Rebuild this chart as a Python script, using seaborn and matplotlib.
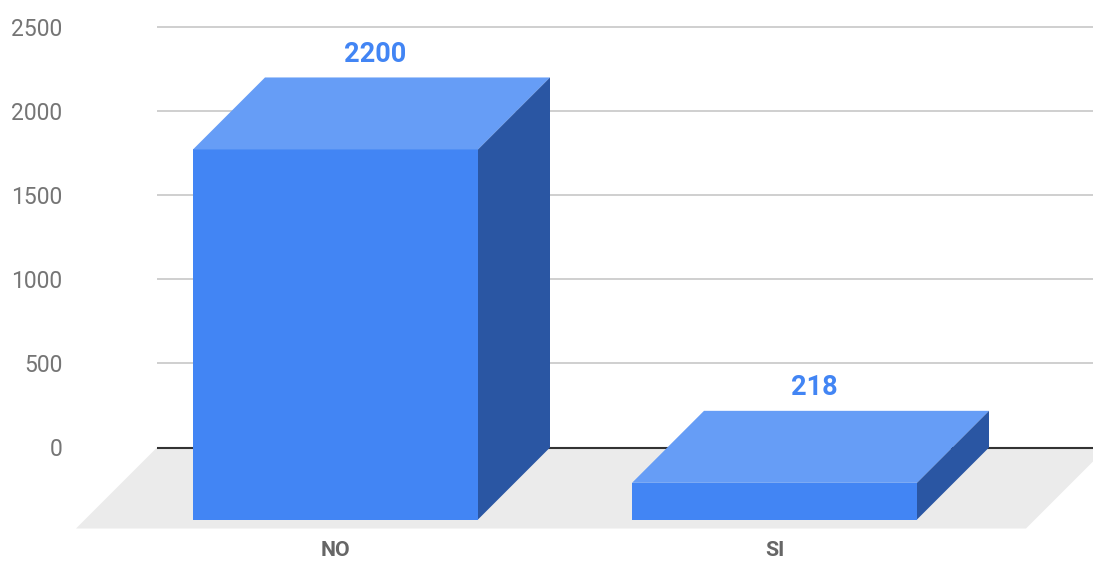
import matplotlib
matplotlib.use("Agg")
import matplotlib.pyplot as plt
from matplotlib.patches import Polygon, Rectangle
import seaborn as sns

# Survey answers and their counts
categories = ["NO", "SI"]
values = [2200, 218]
y_ticks = [0, 500, 1000, 1500, 2000, 2500]

FRONT = "#4285F4"
TOP = "#669DF6"
SIDE = "#2A56A3"
FLOOR = "#EBEBEB"

sns.set_theme(style="white")
plt.rcParams["font.family"] = ["Roboto", "DejaVu Sans"]

W, H = 1093, 562
fig = plt.figure(figsize=(W / 100, H / 100), dpi=100)
# axes spans from the gridline start to the right edge, top to just below the floor
ax = fig.add_axes([157 / W, (H - 540) / H, 1 - 157 / W, 540 / H])

# scale: pixels per category step and per value unit
px_cat = 439.0
px_val = 420.5 / 2500
bar_w = 285 / px_cat
dx = 72 / px_cat          # depth offset along x (category units)
dv = 72 / px_val          # depth offset along y (value units)

# floor under the bars
fdx = 81 / px_cat
fdv = 81 / px_val
fl, fr = -0.5706, 1.5934
ax.add_patch(Polygon([(fl, 0), (fr, 0), (fr - fdx, -fdv), (fl - fdx, -fdv)],
                     closed=True, facecolor=FLOOR, edgecolor="none",
                     zorder=0.5, clip_on=False))

sns.barplot(x=categories, y=values, width=bar_w, color=FRONT, saturation=1,
            linewidth=0, ax=ax, zorder=3)

bars = [p for p in ax.patches if isinstance(p, Rectangle)][:len(values)]
for patch, v in zip(bars, values):
    x0 = patch.get_x()
    w = patch.get_width()
    # move the seaborn bar forward to become the front face
    patch.set_x(x0 - dx)
    patch.set_y(-dv)
    patch.set_clip_on(False)
    patch.set_zorder(3)
    top = Polygon([(x0 - dx, v - dv), (x0 + w - dx, v - dv), (x0 + w, v), (x0, v)],
                  closed=True, facecolor=TOP, edgecolor="none", zorder=3, clip_on=False)
    side = Polygon([(x0 + w - dx, -dv), (x0 + w, 0), (x0 + w, v), (x0 + w - dx, v - dv)],
                   closed=True, facecolor=SIDE, edgecolor="none", zorder=3, clip_on=False)
    ax.add_patch(top)
    ax.add_patch(side)
    ax.annotate(f"{v}", xy=(x0 + w / 2 - 0.45 * dx, v), xytext=(0, 16.5),
                textcoords="offset points", ha="center", va="center",
                fontsize=19.5, fontweight="bold", color=FRONT, zorder=4)

# gridlines and baseline
for t in y_ticks[1:]:
    ax.axhline(t, color="#cccccc", lw=1.3, zorder=1)
ax.axhline(0, color="#333333", lw=1.5, zorder=2)

# left edge of the axes sits at pixel 157
ax.set_xlim((157 - 407.5) / px_cat, (W - 407.5) / px_cat)
ax.set_ylim((447.5 - 540) / px_val, 447.5 / px_val)

ax.set_yticks(y_ticks)
ax.set_yticklabels([str(t) for t in y_ticks], fontsize=16.5, color="#757575")
ax.tick_params(axis="y", length=0, pad=68)

ax.set_xticks([i - dx for i in range(len(categories))])
ax.set_xticklabels(categories, fontsize=15.3, fontweight="bold", color="#666666")
ax.tick_params(axis="x", length=0, pad=0.8)

ax.set_xlabel("")
ax.set_ylabel("")
ax.grid(False)
for s in ax.spines.values():
    s.set_visible(False)
ax.set_facecolor("none")
fig.patch.set_facecolor("white")

fig.savefig("out.png", dpi=100)
